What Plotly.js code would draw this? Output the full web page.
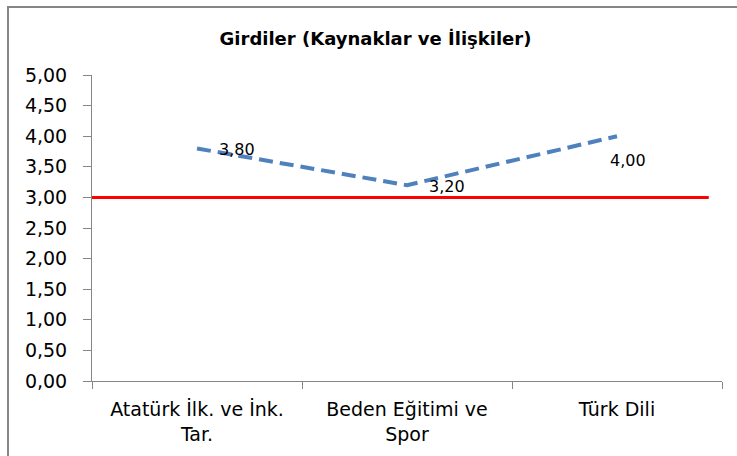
<!DOCTYPE html>
<html>
<head>
<meta charset="utf-8">
<script src="https://cdn.plot.ly/plotly-3.0.1.min.js"></script>
<style>
  html, body { margin: 0; padding: 0; background: #fff; overflow: hidden; }
  #wrap { position: relative; width: 737px; height: 456px; overflow: hidden; }
  #chart { position: absolute; left: 0; top: 0; width: 737px; height: 456px; }
  #frame { position: absolute; left: 7px; top: 6px; width: 800px; height: 500px; border: 2px solid #868686; pointer-events: none; }
</style>
</head>
<body>
<div id="wrap">
  <div id="chart"></div>
  <div id="frame"></div>
</div>
<script>
const categories = ["Atatürk İlk. ve İnk.<br>Tar.", "Beden Eğitimi ve<br>Spor", "Türk Dili"];
const scores = [3.80, 3.20, 4.00];
const scoreLabels = ["3,80", "3,20", "4,00"];
const thresholdX = [0, 0.979];
const thresholdY = [3.00, 3.00];
const yTickVals = [0, 0.5, 1, 1.5, 2, 2.5, 3, 3.5, 4, 4.5, 5];

const FONT = '"DejaVu Sans", Verdana, sans-serif';
const labelShift = [[20, -1], [20, -1], [-9, -24]];

const traces = [
  {
    x: thresholdX, y: thresholdY, xaxis: 'x2', yaxis: 'y',
    mode: 'lines', line: {color: '#FF0000', width: 3}, hoverinfo: 'skip', showlegend: false
  },
  {
    x: categories, y: scores, mode: 'lines',
    line: {color: '#4F81BD', width: 4, dash: '14px,7px'}, showlegend: false
  }
];

const annotations = categories.map((c, i) => ({
  x: c, y: scores[i], xref: 'x', yref: 'y', text: scoreLabels[i], showarrow: false,
  xanchor: 'left', yanchor: 'middle',
  xshift: labelShift[i][0], yshift: labelShift[i][1],
  font: {family: FONT, size: 16, color: '#000'}
}));

const layout = {
  width: 737, height: 456,
  margin: {l: 92, r: 15, t: 75, b: 75},
  paper_bgcolor: '#fff', plot_bgcolor: '#fff',
  separators: ', ',
  font: {family: FONT, size: 19, color: '#000'},
  title: {text: '<b>Girdiler (Kaynaklar ve İlişkiler)</b>', x: 375.5 / 737, xref: 'container', xanchor: 'center',
          y: 1 - 39 / 456, yref: 'container', yanchor: 'middle',
          font: {family: FONT, size: 18, color: '#000'}},
  xaxis: {
    type: 'category', range: [-0.5, 2.5], showgrid: false, zeroline: false,
    showline: true, linecolor: '#868686', linewidth: 1,
    ticks: 'outside', tickson: 'boundaries', ticklen: 7, tickcolor: '#868686', ticklabelstandoff: 11,
    tickfont: {family: FONT, size: 19}, fixedrange: true
  },
  xaxis2: {overlaying: 'x', range: [0, 1], visible: false, fixedrange: true},
  yaxis: {
    range: [0, 5], tickvals: yTickVals, tickformat: '.2f', showgrid: false, zeroline: false,
    showline: true, linecolor: '#868686', linewidth: 1,
    ticks: 'outside', ticklen: 8, tickcolor: '#868686', ticklabelstandoff: 12,
    tickfont: {family: FONT, size: 19}, fixedrange: true
  },
  annotations: annotations
};

Plotly.newPlot('chart', traces, layout, {displayModeBar: false, staticPlot: true});
</script>
</body>
</html>
